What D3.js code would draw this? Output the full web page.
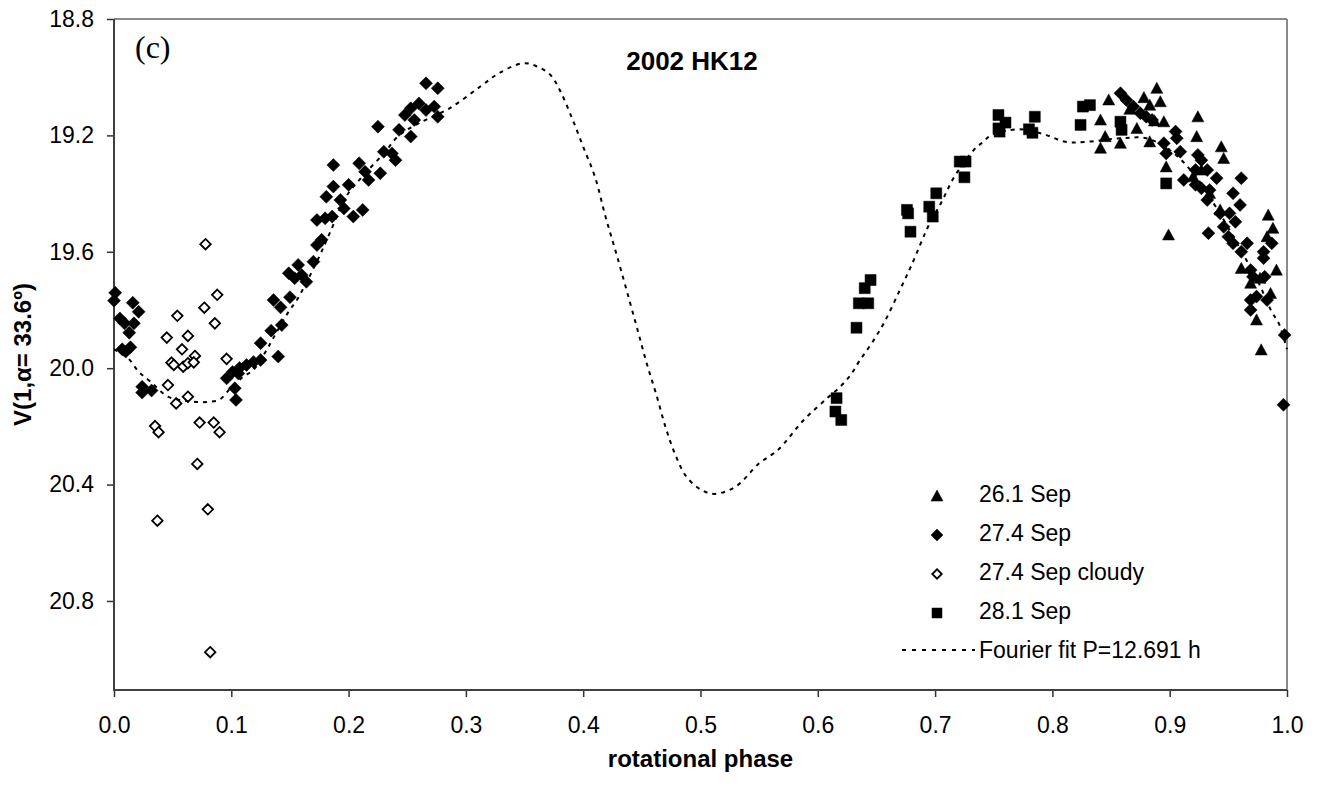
<!DOCTYPE html>
<html>
<head>
<meta charset="utf-8">
<script src="https://cdn.jsdelivr.net/npm/d3@7"></script>
<style>
  html, body { margin: 0; padding: 0; background: #fff; }
  svg { display: block; }
  text { font-family: "Liberation Sans", Arial, sans-serif; fill: #000; }
</style>
</head>
<body>
<svg id="chart" width="1321" height="787"></svg>
<script>
// ---------------- DATA ----------------
const xTicks = [0.0, 0.1, 0.2, 0.3, 0.4, 0.5, 0.6, 0.7, 0.8, 0.9, 1.0];
const yTicks = [18.8, 19.2, 19.6, 20.0, 20.4, 20.8];
const xDomain = [0, 1];
const yDomain = [18.8, 21.106];

const seriesNames = ["26.1 Sep", "27.4 Sep", "27.4 Sep cloudy", "28.1 Sep", "Fourier fit P=12.691 h"];

// 26.1 Sep (filled triangles) [phase, V]
const sep26 = [
  [0.848,19.078],[0.841,19.147],[0.845,19.204],[0.841,19.244],[0.858,19.227],
  [0.883,19.096],[0.889,19.038],[0.892,19.084],[0.883,19.222],[0.895,19.153],
  [0.872,19.176],[0.924,19.136],[0.923,19.204],[0.897,19.308],[0.899,19.542],
  [0.920,19.342],[0.927,19.319],[0.944,19.239],[0.946,19.279],[0.934,19.399],
  [0.984,19.474],[0.988,19.519],[0.983,19.548],[0.961,19.657],[0.991,19.663],
  [0.969,19.708],[0.977,19.691],[0.986,19.743],[0.974,19.834],[0.978,19.937],
  [0.943,19.456],[0.866,19.110],[0.878,19.070],[0.887,19.150]
];

// 27.4 Sep (filled diamonds)
const sep27 = [
  [0.001,19.741],[0.000,19.768],[0.016,19.775],[0.021,19.806],[0.005,19.829],
  [0.009,19.846],[0.017,19.846],[0.013,19.878],[0.007,19.935],[0.010,19.943],
  [0.014,19.928],[0.024,20.064],[0.024,20.084],[0.032,20.077],
  [0.096,20.035],[0.101,20.013],[0.104,20.109],[0.103,20.069],[0.107,19.999],
  [0.113,19.989],[0.119,19.979],[0.125,19.972],[0.106,20.018],[0.125,19.914],
  [0.140,19.960],[0.134,19.871],[0.143,19.852],[0.136,19.766],[0.142,19.791],
  [0.150,19.756],[0.149,19.674],[0.157,19.645],[0.154,19.691],[0.160,19.680],
  [0.164,19.703],[0.170,19.634],[0.173,19.577],[0.177,19.559],[0.173,19.491],
  [0.180,19.485],[0.186,19.479],[0.181,19.411],[0.187,19.376],[0.187,19.302],
  [0.193,19.422],[0.196,19.451],[0.200,19.370],[0.204,19.479],[0.212,19.456],
  [0.209,19.296],[0.214,19.325],[0.217,19.353],[0.227,19.330],[0.230,19.256],
  [0.237,19.262],[0.240,19.285],[0.225,19.170],[0.243,19.181],[0.253,19.204],
  [0.248,19.130],[0.253,19.107],[0.260,19.090],[0.266,19.113],[0.273,19.101],
  [0.276,19.136],[0.266,19.021],[0.276,19.038],[0.256,19.147],
  [0.858,19.055],[0.863,19.078],[0.869,19.101],[0.875,19.124],[0.880,19.136],
  [0.885,19.147],[0.905,19.187],[0.906,19.210],[0.895,19.227],[0.909,19.256],
  [0.897,19.262],[0.924,19.267],[0.927,19.285],[0.912,19.353],[0.922,19.319],
  [0.932,19.319],[0.922,19.370],[0.927,19.382],[0.934,19.388],[0.940,19.347],
  [0.961,19.347],[0.954,19.399],[0.932,19.422],[0.943,19.468],[0.951,19.468],
  [0.960,19.439],[0.956,19.497],[0.933,19.536],[0.946,19.514],[0.950,19.548],
  [0.954,19.571],[0.966,19.571],[0.961,19.600],[0.987,19.571],[0.980,19.600],
  [0.980,19.622],[0.969,19.663],[0.971,19.686],[0.981,19.686],[0.969,19.766],
  [0.974,19.754],[0.983,19.766],[0.969,19.800],[0.998,19.886],[0.997,20.126]
];

// 27.4 Sep cloudy (open diamonds)
const sep27cloudy = [
  [0.078,19.574],[0.088,19.748],[0.077,19.792],[0.086,19.846],[0.054,19.820],
  [0.045,19.895],[0.063,19.889],[0.058,19.935],[0.069,19.958],[0.049,19.981],
  [0.051,19.989],[0.059,19.995],[0.063,19.983],[0.068,19.980],[0.096,19.968],
  [0.046,20.058],[0.053,20.121],[0.063,20.098],[0.073,20.187],[0.085,20.187],
  [0.090,20.220],[0.035,20.199],[0.038,20.220],[0.071,20.329],[0.080,20.485],
  [0.037,20.524],[0.082,20.976]
];

// 28.1 Sep (filled squares)
const sep28 = [
  [0.616,20.103],[0.615,20.149],[0.620,20.178],[0.645,19.697],[0.640,19.725],
  [0.635,19.777],[0.643,19.777],[0.633,19.861],[0.676,19.456],[0.677,19.468],
  [0.679,19.531],[0.695,19.445],[0.698,19.479],[0.701,19.399],[0.721,19.290],
  [0.726,19.290],[0.725,19.344],[0.754,19.130],[0.760,19.156],[0.754,19.176],
  [0.755,19.187],[0.785,19.136],[0.780,19.179],[0.783,19.191],[0.826,19.101],
  [0.824,19.164],[0.858,19.153],[0.859,19.181],[0.897,19.365],[0.832,19.096]
];

// Fourier fit curve
const fourierFit = [
  [0.000,19.935],[0.012,19.966],[0.021,20.012],[0.031,20.046],[0.046,20.098],
  [0.060,20.112],[0.070,20.116],[0.080,20.116],[0.090,20.108],[0.100,20.065],
  [0.110,20.030],[0.119,20.005],[0.129,19.945],[0.136,19.895],[0.149,19.805],
  [0.156,19.765],[0.174,19.625],[0.184,19.535],[0.198,19.410],[0.212,19.340],
  [0.230,19.262],[0.243,19.200],[0.260,19.158],[0.286,19.107],[0.312,19.033],
  [0.328,18.987],[0.349,18.952],[0.361,18.964],[0.372,18.992],[0.380,19.044],
  [0.390,19.136],[0.400,19.239],[0.410,19.342],[0.419,19.479],[0.429,19.617],
  [0.444,19.834],[0.455,19.995],[0.462,20.086],[0.470,20.200],[0.478,20.292],
  [0.488,20.373],[0.501,20.419],[0.512,20.432],[0.530,20.407],[0.550,20.327],
  [0.566,20.281],[0.588,20.178],[0.608,20.103],[0.619,20.064],[0.628,20.023],
  [0.636,19.972],[0.646,19.914],[0.657,19.840],[0.670,19.731],[0.680,19.645],
  [0.689,19.559],[0.694,19.514],[0.706,19.425],[0.716,19.345],[0.733,19.250],
  [0.741,19.222],[0.748,19.199],[0.771,19.179],[0.792,19.195],[0.811,19.222],
  [0.829,19.222],[0.858,19.210],[0.880,19.210],[0.900,19.250],[0.920,19.330],
  [0.940,19.450],[0.960,19.590],[0.975,19.700],[0.987,19.806],[0.993,19.846],
  [1.000,19.935]
];

// ---------------- CHART ----------------
const svg = d3.select("#chart");
const mLeft = 114, mRight = 1287, mTop = 19, mBottom = 690;

const x = d3.scaleLinear().domain(xDomain).range([mLeft, mRight]);
const y = d3.scaleLinear().domain(yDomain).range([mTop, mBottom]);

// frame (top & right lighter)
svg.append("line").attr("x1", mLeft).attr("x2", mRight).attr("y1", mTop).attr("y2", mTop)
  .attr("stroke", "#8a8a8a").attr("stroke-width", 2);
svg.append("line").attr("x1", mRight).attr("x2", mRight).attr("y1", mTop).attr("y2", mBottom)
  .attr("stroke", "#8a8a8a").attr("stroke-width", 2);

// axes
const xAxis = d3.axisBottom(x).tickValues(xTicks).tickFormat(d3.format(".1f"))
  .tickSize(7).tickPadding(20).tickSizeOuter(0);
const gx = svg.append("g").attr("transform", `translate(0,${mBottom})`).call(xAxis);
gx.select(".domain").remove();
gx.selectAll(".tick line").attr("stroke", "#333").attr("stroke-width", 1.5);
gx.selectAll(".tick text").style("font-size", "23px").attr("font-family", "Liberation Sans, Arial, sans-serif").attr("fill", "#000");

const yAxis = d3.axisLeft(y).tickValues(yTicks).tickFormat(d3.format(".1f"))
  .tickSize(7).tickPadding(13).tickSizeOuter(0);
const gy = svg.append("g").attr("transform", `translate(${mLeft},0)`).call(yAxis);
gy.select(".domain").remove();
gy.selectAll(".tick line").attr("stroke", "#333").attr("stroke-width", 1.5);
gy.selectAll(".tick text").style("font-size", "23px").attr("font-family", "Liberation Sans, Arial, sans-serif").attr("fill", "#000");

// axis lines (left, bottom) darker
svg.append("line").attr("x1", mLeft).attr("x2", mLeft).attr("y1", mTop).attr("y2", mBottom + 1)
  .attr("stroke", "#404040").attr("stroke-width", 2);
svg.append("line").attr("x1", mLeft - 1).attr("x2", mRight).attr("y1", mBottom).attr("y2", mBottom)
  .attr("stroke", "#404040").attr("stroke-width", 2);

// markers
function markerPath(type, s) {
  const h = s / 2;
  if (type === "tri") return `M0,${-h}L${h},${h * 0.85}L${-h},${h * 0.85}Z`;
  if (type === "dia") return `M0,${-h}L${h},0L0,${h}L${-h},0Z`;
  return `M${-h},${-h}H${h}V${h}H${-h}Z`;
}

const plot = svg.append("g");
function drawSeries(data, type, size, filled) {
  plot.append("g").selectAll("path").data(data).join("path")
    .attr("transform", d => `translate(${x(d[0])},${y(d[1])})`)
    .attr("d", markerPath(type, size))
    .attr("fill", filled ? "#000" : "#fff")
    .attr("stroke", "#000")
    .attr("stroke-width", filled ? 0.5 : 1.8);
}
drawSeries(sep26, "tri", 12, true);
drawSeries(sep27, "dia", 13, true);
drawSeries(sep27cloudy, "dia", 10.5, false);
drawSeries(sep28, "sq", 11, true);

// Fourier fit
const fitLine = d3.line().x(d => x(d[0])).y(d => y(d[1])).curve(d3.curveCatmullRom.alpha(0.5));
plot.append("path").datum(fourierFit).attr("d", fitLine)
  .attr("fill", "none").attr("stroke", "#000").attr("stroke-width", 2)
  .attr("stroke-dasharray", "4,5");

// titles
svg.append("text").attr("x", 135).attr("y", 58)
  .attr("font-family", "Liberation Serif, Times New Roman, serif")
  .style("font-family", "'Liberation Serif', 'Times New Roman', serif")
  .style("font-size", "32px").text("(c)");
svg.append("text").attr("x", 692).attr("y", 70).attr("text-anchor", "middle")
  .style("font-size", "26px").style("font-weight", "bold").text("2002 HK12");
svg.append("text").attr("x", (mLeft + mRight) / 2).attr("y", 767).attr("text-anchor", "middle")
  .style("font-size", "24px").style("font-weight", "bold").text("rotational phase");
svg.append("text").attr("transform", `translate(31,${(mTop + mBottom) / 2}) rotate(-90)`)
  .attr("text-anchor", "middle")
  .style("font-size", "24px").style("font-weight", "bold").text("V(1,α= 33.6º)");

// legend
const legendTypes = [["tri", true], ["dia", true], ["dia", false], ["sq", true]];
const lg = svg.append("g");
const rowY = [502, 541, 580, 619, 658];
seriesNames.forEach((name, i) => {
  if (i < 4) {
    const [t, f] = legendTypes[i];
    lg.append("path").attr("transform", `translate(937,${rowY[i] - 6})`)
      .attr("d", markerPath(t, f ? (t === "sq" ? 10 : 12) : 9.5))
      .attr("fill", f ? "#000" : "#fff").attr("stroke", "#000")
      .attr("stroke-width", f ? 0.5 : 1.8);
  } else {
    lg.append("line").attr("x1", 902).attr("x2", 975)
      .attr("y1", rowY[i] - 8).attr("y2", rowY[i] - 8)
      .attr("stroke", "#000").attr("stroke-width", 2).attr("stroke-dasharray", "4,6");
  }
  lg.append("text").attr("x", 979).attr("y", rowY[i]).style("font-size", "23px").text(name);
});
</script>
</body>
</html>
